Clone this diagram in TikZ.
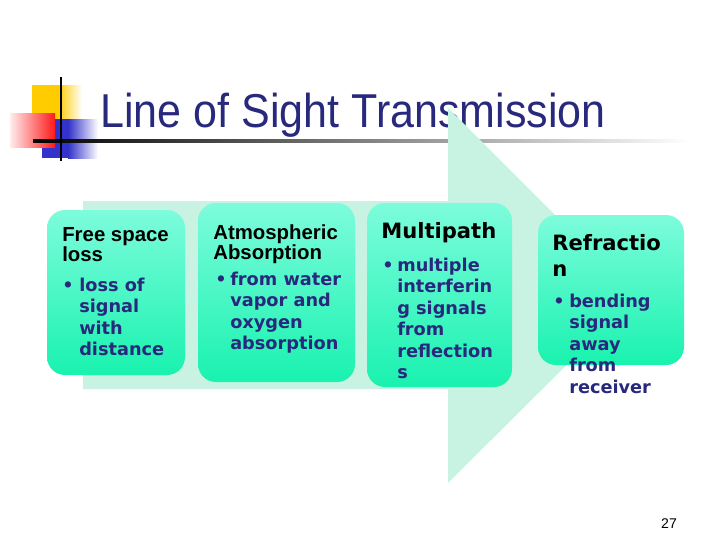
\documentclass[tikz,border=0pt]{standalone}
\usepackage{fontspec}
\setmainfont{Liberation Sans}
\newfontfamily\verdfont{DejaVu Sans}
\newfontfamily\titlefont{Liberation Sans}[FakeStretch=0.905]
\usepackage{xcolor}
\usepackage{tikz}
\definecolor{slidenavy}{RGB}{40, 40, 125}
\definecolor{arrowmint}{RGB}{200, 242, 225}
\definecolor{cardtop}{RGB}{125, 252, 220}
\definecolor{cardbot}{RGB}{25, 242, 175}
\definecolor{decoyellow}{RGB}{255, 204, 0}
\definecolor{decored}{RGB}{255, 25, 25}
\definecolor{decoblue}{RGB}{51, 51, 204}
\newcommand{\pxu}{0.025cm}
\newcommand{\lead}{\rule{0pt}{12pt}}

\begin{document}
\begin{tikzpicture}[x=0.025cm, y=-0.025cm,
        factor/.style={rectangle, rounded corners=18*\pxu, top color=cardtop, bottom color=cardbot, draw=none, inner sep=0pt},
        headA/.style={anchor=north west, inner sep=0pt, align=left, font=\fontsize{14.5}{13.5}\selectfont\bfseries},
        headB/.style={anchor=north west, inner sep=0pt, align=left, font=\verdfont\fontsize{15}{18.5}\selectfont\bfseries},
        itemstyle/.style={anchor=north west, inner sep=0pt, align=left, text=slidenavy, font=\verdfont\fontsize{12.6}{15.3}\selectfont\bfseries},
        dotstyle/.style={itemstyle}
    ]
        \useasboundingbox (0, 0) rectangle (720, 540);

        \fill[decoyellow] (32, 85) rectangle (58, 120);
        \fill[left color=decoyellow, right color=white] (58, 85) rectangle (82, 120);
        \fill[decoblue] (42, 119) rectangle (68, 158);
        \fill[left color=decoblue, right color=white] (68, 119) rectangle (98, 158);
        \fill[left color=white!92!decored, middle color=decored!55!white, right color=decored] (10, 113) rectangle (55, 147);
        \fill[left color=black, right color=white] (33, 139.6) rectangle (690, 142.4);
        \draw[line width=2pt] (61, 77) -- (61, 161);

        \node[anchor=base west, inner sep=0pt, text=slidenavy, font=\titlefont\fontsize{33.8}{40}\selectfont] (title) at (100, 127) {Line of Sight Transmission};

        \fill[arrowmint] (83, 201) -- (448, 201) -- (448, 108) -- (636, 296) -- (448, 483) -- (448, 389) -- (83, 389) -- cycle;

        \node[factor, minimum width=138*\pxu, minimum height=165*\pxu] (f1) at (116, 292.5) {};
        \node[factor, minimum width=157*\pxu, minimum height=179*\pxu] (f2) at (276.5, 292.5) {};
        \node[factor, minimum width=145*\pxu, minimum height=184*\pxu] (f3) at (439.5, 295) {};
        \node[factor, minimum width=146*\pxu, minimum height=150*\pxu] (f4) at (611, 290) {};

        \node[headA] (h1) at (62, 224.1) {\lead Free space\\loss};
        \node[dotstyle] (b1) at (62, 274.1) {\lead\textbullet};
        \node[itemstyle] (t1) at (79, 274.1) {\lead loss of\\signal\\with\\distance};

        \node[headA] (h2) at (213, 222.1) {\lead Atmospheric\\Absorption};
        \node[dotstyle] (b2) at (215, 268.1) {\lead\textbullet};
        \node[itemstyle] (t2) at (230, 268.1) {\lead from water\\vapor and\\oxygen\\absorption};

        \node[headB] (h3) at (381, 221.1) {\lead Multipath};
        \node[dotstyle] (b3) at (382, 254.1) {\lead\textbullet};
        \node[itemstyle] (t3) at (397, 254.1) {\lead multiple\\interferin\\g signals\\from\\reflection\\s};

        \node[headB] (h4) at (552, 233.1) {\lead Refractio\\n};
        \node[dotstyle] (b4) at (553, 290.1) {\lead\textbullet};
        \node[itemstyle] (t4) at (569, 290.1) {\lead bending\\signal\\away\\from\\receiver};

        \node[anchor=base, inner sep=0pt, font=\fontsize{10}{12}\selectfont] (pg) at (669, 528) {27};
    \end{tikzpicture}
\end{document}
